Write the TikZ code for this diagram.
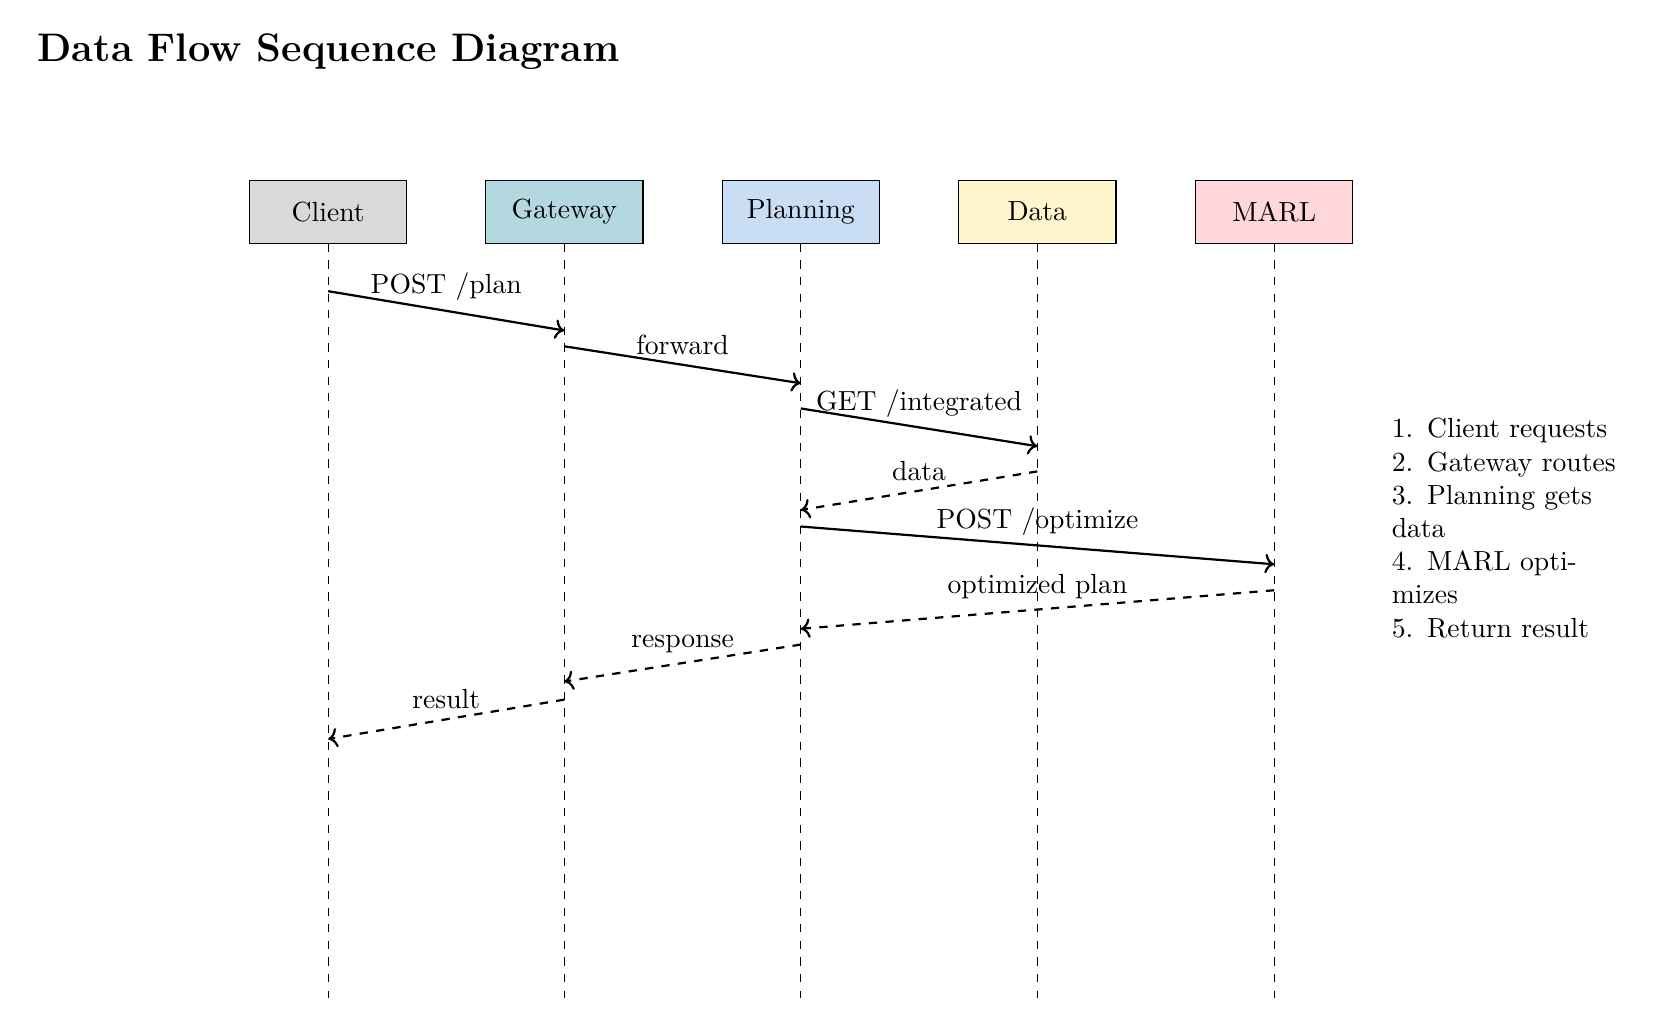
\documentclass[tikz,border=0pt]{standalone}
\usetikzlibrary{arrows.meta}
\definecolor{cClient}{RGB}{217,217,217}
\definecolor{cGateway}{RGB}{179,216,224}
\definecolor{cPlanning}{RGB}{201,221,245}
\definecolor{cData}{RGB}{255,245,204}
\definecolor{cMarl}{RGB}{255,214,218}
\tikzset{
  actor/.style={draw=black, minimum width=2cm, minimum height=0.8cm, inner sep=2pt},
  lifeline/.style={dashed, thin},
  msg/.style={thick, ->},
  reply/.style={thick, dashed, ->},
  msglabel/.style={above, midway}
}
\begin{document}
\begin{tikzpicture}
\useasboundingbox (0,0) rectangle (21.156,-13.062);
\node[anchor=west, inner sep=0pt, font=\Large\bfseries] (title) at (0.47,-0.65) {Data Flow Sequence Diagram};

\node[actor, fill=cClient]   (client)   at (4.17,-2.69) {Client};
\node[actor, fill=cGateway]  (gateway)  at (7.17,-2.69) {Gateway};
\node[actor, fill=cPlanning] (planning) at (10.175,-2.69) {Planning};
\node[actor, fill=cData]     (data)     at (13.18,-2.69) {Data};
\node[actor, fill=cMarl]     (marl)     at (16.19,-2.69) {MARL};

\foreach \a in {client,gateway,planning,data,marl}{
  \coordinate (\a-end) at (\a.south |- 0,-12.68);
  \draw[lifeline] (\a.south) -- (\a-end);
}

% message anchor points on lifelines
\coordinate (m1s) at (client.south |- 0,-3.70);
\coordinate (m1e) at (gateway.south |- 0,-4.20);
\coordinate (m2s) at (gateway.south |- 0,-4.40);
\coordinate (m2e) at (planning.south |- 0,-4.87);
\coordinate (m3s) at (planning.south |- 0,-5.19);
\coordinate (m3e) at (data.south |- 0,-5.67);
\coordinate (m4s) at (data.south |- 0,-5.99);
\coordinate (m4e) at (planning.south |- 0,-6.48);
\coordinate (m5s) at (planning.south |- 0,-6.69);
\coordinate (m5e) at (marl.south |- 0,-7.17);
\coordinate (m6s) at (marl.south |- 0,-7.50);
\coordinate (m6e) at (planning.south |- 0,-7.99);
\coordinate (m7s) at (planning.south |- 0,-8.19);
\coordinate (m7e) at (gateway.south |- 0,-8.66);
\coordinate (m8s) at (gateway.south |- 0,-8.89);
\coordinate (m8e) at (client.south |- 0,-9.39);

\draw[msg]   (m1s) -- node[msglabel] {POST /plan} (m1e);
\draw[msg]   (m2s) -- node[msglabel] {forward} (m2e);
\draw[msg]   (m3s) -- node[msglabel] {GET /integrated} (m3e);
\draw[reply] (m4s) -- node[msglabel] {data} (m4e);
\draw[msg]   (m5s) -- node[msglabel] {POST /optimize} (m5e);
\draw[reply] (m6s) -- node[msglabel] {optimized plan} (m6e);
\draw[reply] (m7s) -- node[msglabel] {response} (m7e);
\draw[reply] (m8s) -- node[msglabel] {result} (m8e);

\node[anchor=west, text width=3cm, align=left] (notes) at (17.56,-6.71)
  {1. Client requests\\ 2. Gateway routes\\ 3. Planning gets data\\ 4. MARL optimizes\\ 5. Return result};
\end{tikzpicture}
\end{document}
